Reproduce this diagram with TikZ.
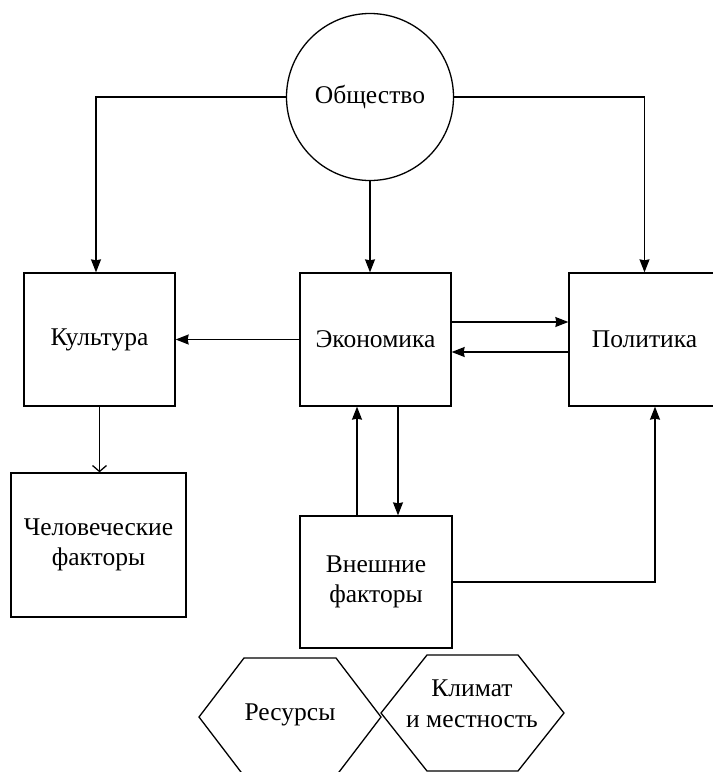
\documentclass[tikz,border=0pt]{standalone}
\usepackage{fontspec}
\setmainfont{Liberation Serif}
\usetikzlibrary{arrows.meta}

\begin{document}
\begin{tikzpicture}[x=1pt, y=-1pt, line width=1.3pt,
  txt/.style = {align=center, font=\fontsize{25.5}{30.5}\selectfont},
  box/.style = {draw, rectangle, txt},
  arr/.style = {-{Stealth[length=13pt, width=10pt, inset=1pt]}},
  barb/.style = {-{Straight Barb[length=6pt, width=14pt]}}]

\useasboundingbox (0, 0) rectangle (713, 772);

\node[draw, circle, minimum size=167, inner sep=0, txt] (obsh) at (370, 97) {Общество};

\node[box, minimum width=151, minimum height=133] (kult) at (99.5, 339.5) {Культура};
\node[box, minimum width=151, minimum height=133] (ekon) at (375.5, 339.5) {Экономика};
\node[box, minimum width=151, minimum height=133] (polit) at (644.5, 339.5) {Политика};

\node[box, minimum width=175, minimum height=144] (chel) at (98.5, 545) {Человеческие\\факторы};
\node[box, minimum width=152, minimum height=132] (vnesh) at (376, 582) {Внешние\\факторы};

% hexagons
\draw (199, 717) -- (244, 658) -- (336, 658) -- (381, 717) -- (336, 776) -- (244, 776) -- cycle;
\draw (381, 713) -- (427, 655) -- (518, 655) -- (564, 713) -- (518, 771) -- (427, 771) -- cycle;
\node[txt] (res) at (290, 715) {Ресурсы};
\node[txt] (klim) at (472, 704) {Климат\\и местность};

\draw[arr] (obsh.west) -| ([xshift=-3.5pt]kult.north);
\draw[arr] (obsh.south) -- (obsh.south |- ekon.north);
\draw[arr] (obsh.east) -| (polit.north);

\draw[arr] (ekon.west) -- (kult.east);
\draw[arr] ([yshift=17.5pt]ekon.east) -- ([yshift=17.5pt]polit.west);
\draw[arr] ([yshift=-12.5pt]polit.west) -- ([yshift=-12.5pt]ekon.east);

\draw[barb] (kult.south) -- (kult.south |- chel.north);

\draw[arr] ([xshift=-19pt]vnesh.north) -- ([xshift=-19pt]vnesh.north |- ekon.south);
\draw[arr] ([xshift=22.5pt]ekon.south) -- ([xshift=22.5pt]ekon.south |- vnesh.north);
\draw[arr] (vnesh.east) -| ([xshift=10.5pt]polit.south);

\end{tikzpicture}
\end{document}
